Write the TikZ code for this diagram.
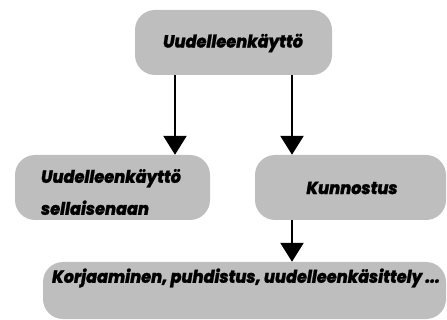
\documentclass[tikz,border=0pt]{standalone}
\usepackage{fontspec}
\IfFontExistsTF{Poppins ExtraBold Italic}
  {\newfontfamily\fut{Poppins ExtraBold Italic}[FakeBold=1.2,FakeStretch=0.92]}
  {\IfFontExistsTF{Poppins Black Italic}
    {\newfontfamily\fut{Poppins Black Italic}[FakeStretch=0.92]}
    {\newfontfamily\fut{Poppins Bold Italic}[FakeBold=2,FakeStretch=0.92]}}
\usetikzlibrary{arrows.meta}
\definecolor{boxgray}{RGB}{190,190,190}
\begin{document}
\begin{tikzpicture}[x=1pt,y=-1pt,
  box/.style={fill=boxgray,rounded corners=20pt,inner sep=0pt},
  lbl/.style={font=\fut\fontsize{17.5}{32}\selectfont,inner sep=0pt,align=left},
  arr/.style={line width=2.5pt,-{Triangle[width=23pt,length=19pt]}}]
\useasboundingbox (0,0) rectangle (447,320);
% boxes
\node[box,minimum width=197pt,minimum height=65pt] (top) at (233.5,42.5) {};
\node[box,minimum width=195pt,minimum height=65pt] (left) at (112.5,187.5) {};
\node[box,minimum width=191pt,minimum height=65pt] (kunn) at (350.5,187.5) {};
\node[box,minimum width=403pt,minimum height=57pt] (korj) at (244.5,290.5) {};
% texts
\node[lbl] (ttop) at (233,43) {Uudelleenkäyttö};
\node[lbl] (tleft) at (111,192) {Uudelleenkäyttö\\sellaisenaan};
\node[lbl] (tkunn) at (352,188) {Kunnostus};
\node[lbl] (tkorj) at (246,278) {Korjaaminen, puhdistus, uudelleenkäsittely ...};
% arrows
\coordinate (a1) at (175,0);
\coordinate (a2) at (292,0);
\draw[arr] (top.south -| a1) -- (left.north -| a1);
\draw[arr] (top.south -| a2) -- (kunn.north -| a2);
\draw[arr] (kunn.south -| a2) -- (korj.north -| a2);
\end{tikzpicture}
\end{document}
